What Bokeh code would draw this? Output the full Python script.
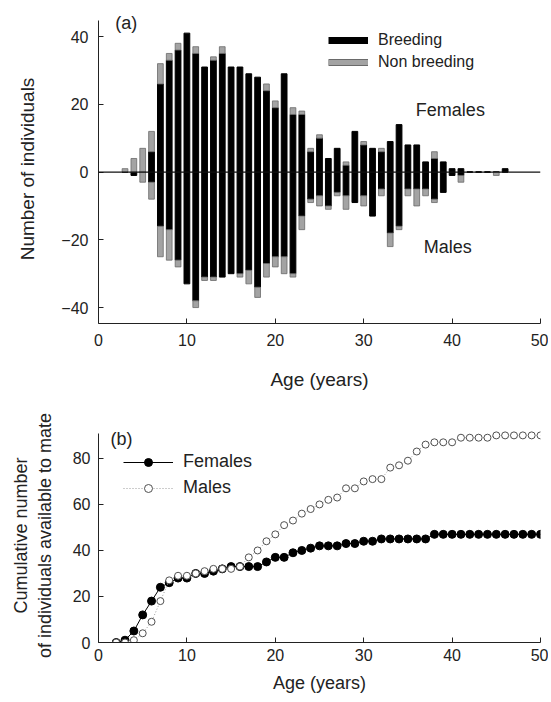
from bokeh.plotting import figure
from bokeh.models import Range1d, Span, Legend, LegendItem, Label, ColumnDataSource, FixedTicker
from bokeh.layouts import column
from bokeh.embed import file_html
from bokeh.resources import INLINE

# ---------------- data: panel (a) ----------------
ages = list(range(3, 47))
fem_breeding = [0, 0, 0, 6, 26, 33, 36, 41, 35, 31,
                33, 35, 31, 31, 29, 28, 24, 19, 29, 17,
                17, 6, 10, 4, 7, 2, 12, 8, 7, 6,
                9, 14, 8, 8, 3, 4, 3, 1, 1, 0,
                0, 0, 0, 1]
fem_nonbreeding = [1, 4, 7, 6, 6, 2, 2, 0, 2, 0,
                   1, 2, 0, 0, 0, 0, 2, 2, 0, 2,
                   1, 1, 1, 0, 0, 1, 0, 1, 0, 1,
                   0, 0, 0, 0, 0, 2, 0, 0, 0, 0,
                   0, 0, 0, 0]
male_breeding = [0, 1, 0, 3, 16, 17, 26, 33, 38, 31,
                 31, 31, 30, 30, 29, 34, 27, 25, 25, 30,
                 13, 8, 7, 10, 6, 7, 9, 7, 13, 5,
                 18, 16, 5, 5, 5, 8, 6, 1, 1, 0,
                 0, 0, 0, 0]
male_nonbreeding = [0, 0, 3, 5, 9, 9, 2, 0, 2, 1,
                    1, 0, 0, 1, 4, 3, 4, 3, 5, 1,
                    4, 1, 3, 1, 1, 4, 0, 3, 0, 2,
                    4, 1, 2, 5, 2, 1, 0, 0, 2, 0,
                    0, 0, 1, 0]
ticks_a_x = [0, 10, 20, 30, 40, 50]
ticks_a_y = [-40, -20, 0, 20, 40]

# ---------------- data: panel (b) ----------------
cum_ages = list(range(2, 51))
fem_cum = [0, 1, 5, 12, 18, 24, 26, 28, 28, 30,
           30, 31, 32, 33, 33, 33, 33, 35, 37, 37,
           39, 40, 41, 42, 42, 42, 43, 43, 44, 44,
           45, 45, 45, 45, 45, 45, 47, 47, 47, 47,
           47, 47, 47, 47, 47, 47, 47, 47, 47]
male_cum = [0, 0, 1, 4, 9, 18, 27, 29, 29, 30,
            31, 32, 32, 32, 33, 37, 40, 44, 47, 51,
            53, 56, 58, 60, 62, 63, 67, 67, 70, 71,
            71, 76, 77, 79, 83, 86, 87, 87, 87, 89,
            89, 89, 89, 90, 90, 90, 90, 90, 90]
ticks_b_x = [0, 10, 20, 30, 40, 50]
ticks_b_y = [0, 20, 40, 60, 80]

FONT = "Liberation Sans"
TXT = "#222222"
GRAY = "#a3a3a3"
GRAY_EDGE = "#6a6a6a"
NAN = float("nan")


def style_axes(p, tick_size, title_size, tick_standoff_x, tick_standoff_y):
    p.outline_line_color = None
    p.grid.visible = False
    for ax in (p.xaxis[0], p.yaxis[0]):
        ax.axis_line_color = "#222222"
        ax.major_tick_line_color = "#222222"
        ax.major_tick_in = 5
        ax.major_tick_out = 0
        ax.minor_tick_line_color = None
        ax.major_label_text_font = FONT
        ax.major_label_text_font_size = tick_size
        ax.major_label_text_color = TXT
        ax.axis_label_text_font = FONT
        ax.axis_label_text_font_style = "normal"
        ax.axis_label_text_color = TXT
        ax.axis_label_text_font_size = title_size
    p.xaxis[0].major_label_standoff = tick_standoff_x
    p.yaxis[0].major_label_standoff = tick_standoff_y


# ---------------- panel (a) ----------------
src = ColumnDataSource(dict(
    age=ages,
    fb=fem_breeding,
    mbot=[-b for b in male_breeding],
))
fn_idx = [i for i, v in enumerate(fem_nonbreeding) if v > 0]
mn_idx = [i for i, v in enumerate(male_nonbreeding) if v > 0]
src_fn = ColumnDataSource(dict(
    age=[ages[i] for i in fn_idx],
    bottom=[fem_breeding[i] for i in fn_idx],
    top=[fem_breeding[i] + fem_nonbreeding[i] for i in fn_idx],
))
src_mn = ColumnDataSource(dict(
    age=[ages[i] for i in mn_idx],
    bottom=[-(male_breeding[i] + male_nonbreeding[i]) for i in mn_idx],
    top=[-male_breeding[i] for i in mn_idx],
))

# y range extends slightly above the axis line so the "(a)" label is not clipped
p1 = figure(width=548, height=393, x_range=Range1d(0, 50), y_range=Range1d(-44.7, 46.5),
            output_backend="svg", toolbar_location=None,
            min_border_left=98, min_border_right=8, min_border_top=14, min_border_bottom=70)
style_axes(p1, "16px", "19px", 10, 10)
p1.yaxis.bounds = (-44.7, 44.7)
p1.xaxis.ticker = FixedTicker(ticks=ticks_a_x)
p1.yaxis.ticker = FixedTicker(ticks=ticks_a_y)
p1.xaxis.axis_label = "Age (years)"
p1.yaxis.axis_label = "Number of individuals"
p1.xaxis.axis_label_standoff = 20
p1.yaxis.axis_label_standoff = 20

BW = 0.65
p1.vbar(x="age", bottom=0, top="fb", width=BW, source=src, fill_color="black", line_color="black")
p1.vbar(x="age", bottom="mbot", top=0, width=BW, source=src, fill_color="black", line_color="black")
p1.vbar(x="age", bottom="bottom", top="top", width=BW, source=src_fn, fill_color=GRAY, line_color=GRAY_EDGE, line_width=0.8)
p1.vbar(x="age", bottom="bottom", top="top", width=BW, source=src_mn, fill_color=GRAY, line_color=GRAY_EDGE, line_width=0.8)
p1.add_layout(Span(location=0, dimension="width", line_color="#111111", line_width=1.2))

leg_b = p1.line(x=[NAN], y=[NAN], line_color="black", line_width=7)
leg_n_edge = p1.line(x=[NAN], y=[NAN], line_color=GRAY_EDGE, line_width=7)
leg_n = p1.line(x=[NAN], y=[NAN], line_color=GRAY, line_width=5)
legend_a = Legend(items=[LegendItem(label="Breeding", renderers=[leg_b]),
                         LegendItem(label="Non breeding", renderers=[leg_n_edge, leg_n])],
                  location=(230, 250), glyph_width=40, glyph_height=22, label_height=22,
                  spacing=0, padding=0, margin=0, label_standoff=10,
                  border_line_color=None, background_fill_alpha=0,
                  label_text_font=FONT, label_text_font_size="16px", label_text_color=TXT)
p1.add_layout(legend_a)

for txt, x, y in [("Females", 35.9, 18.2), ("Males", 36.8, -22.1), ("(a)", 1.9, 43.9)]:
    p1.add_layout(Label(x=x, y=y, text=txt, text_baseline="middle", text_align="left",
                        text_font=FONT, text_font_size="18px", text_color=TXT))

# ---------------- panel (b) ----------------
p2 = figure(width=548, height=305, x_range=Range1d(0, 50), y_range=Range1d(0, 93),
            output_backend="svg", toolbar_location=None,
            min_border_left=98, min_border_right=8, min_border_top=35, min_border_bottom=56)
style_axes(p2, "16px", "18px", 6, 8)
p2.yaxis.bounds = (0, 91)
p2.xaxis.ticker = FixedTicker(ticks=ticks_b_x)
p2.yaxis.ticker = FixedTicker(ticks=ticks_b_y)
p2.xaxis.axis_label = "Age (years)"
p2.yaxis.axis_label = "Cumulative number\nof individuals available to mate"
p2.xaxis.axis_label_standoff = 9
p2.yaxis.axis_label_standoff = 15

lf = p2.line(cum_ages, fem_cum, line_color="black", line_width=1)
sf = p2.scatter(cum_ages, fem_cum, size=8, fill_color="black", line_color="black")
lm = p2.line(cum_ages, male_cum, line_color="#9a9a9a", line_width=1, line_dash="1 2")
sm = p2.scatter(cum_ages, male_cum, size=7, fill_color="white", line_color="#505050", line_width=1)

legend_b = Legend(items=[LegendItem(label="Females", renderers=[lf, sf]),
                         LegendItem(label="Males", renderers=[lm, sm])],
                  location=(25, 144), glyph_width=50, glyph_height=20, label_height=20,
                  spacing=5, padding=0, margin=0, label_standoff=10,
                  border_line_color=None, background_fill_alpha=0,
                  label_text_font=FONT, label_text_font_size="18px", label_text_color=TXT)
p2.add_layout(legend_b)
p2.add_layout(Label(x=1.36, y=88.6, text="(b)", text_baseline="middle", text_align="left",
                    text_font=FONT, text_font_size="18px", text_color=TXT))

layout = column(p1, p2, spacing=0)
open("out.html", "w").write(file_html(layout, INLINE))
